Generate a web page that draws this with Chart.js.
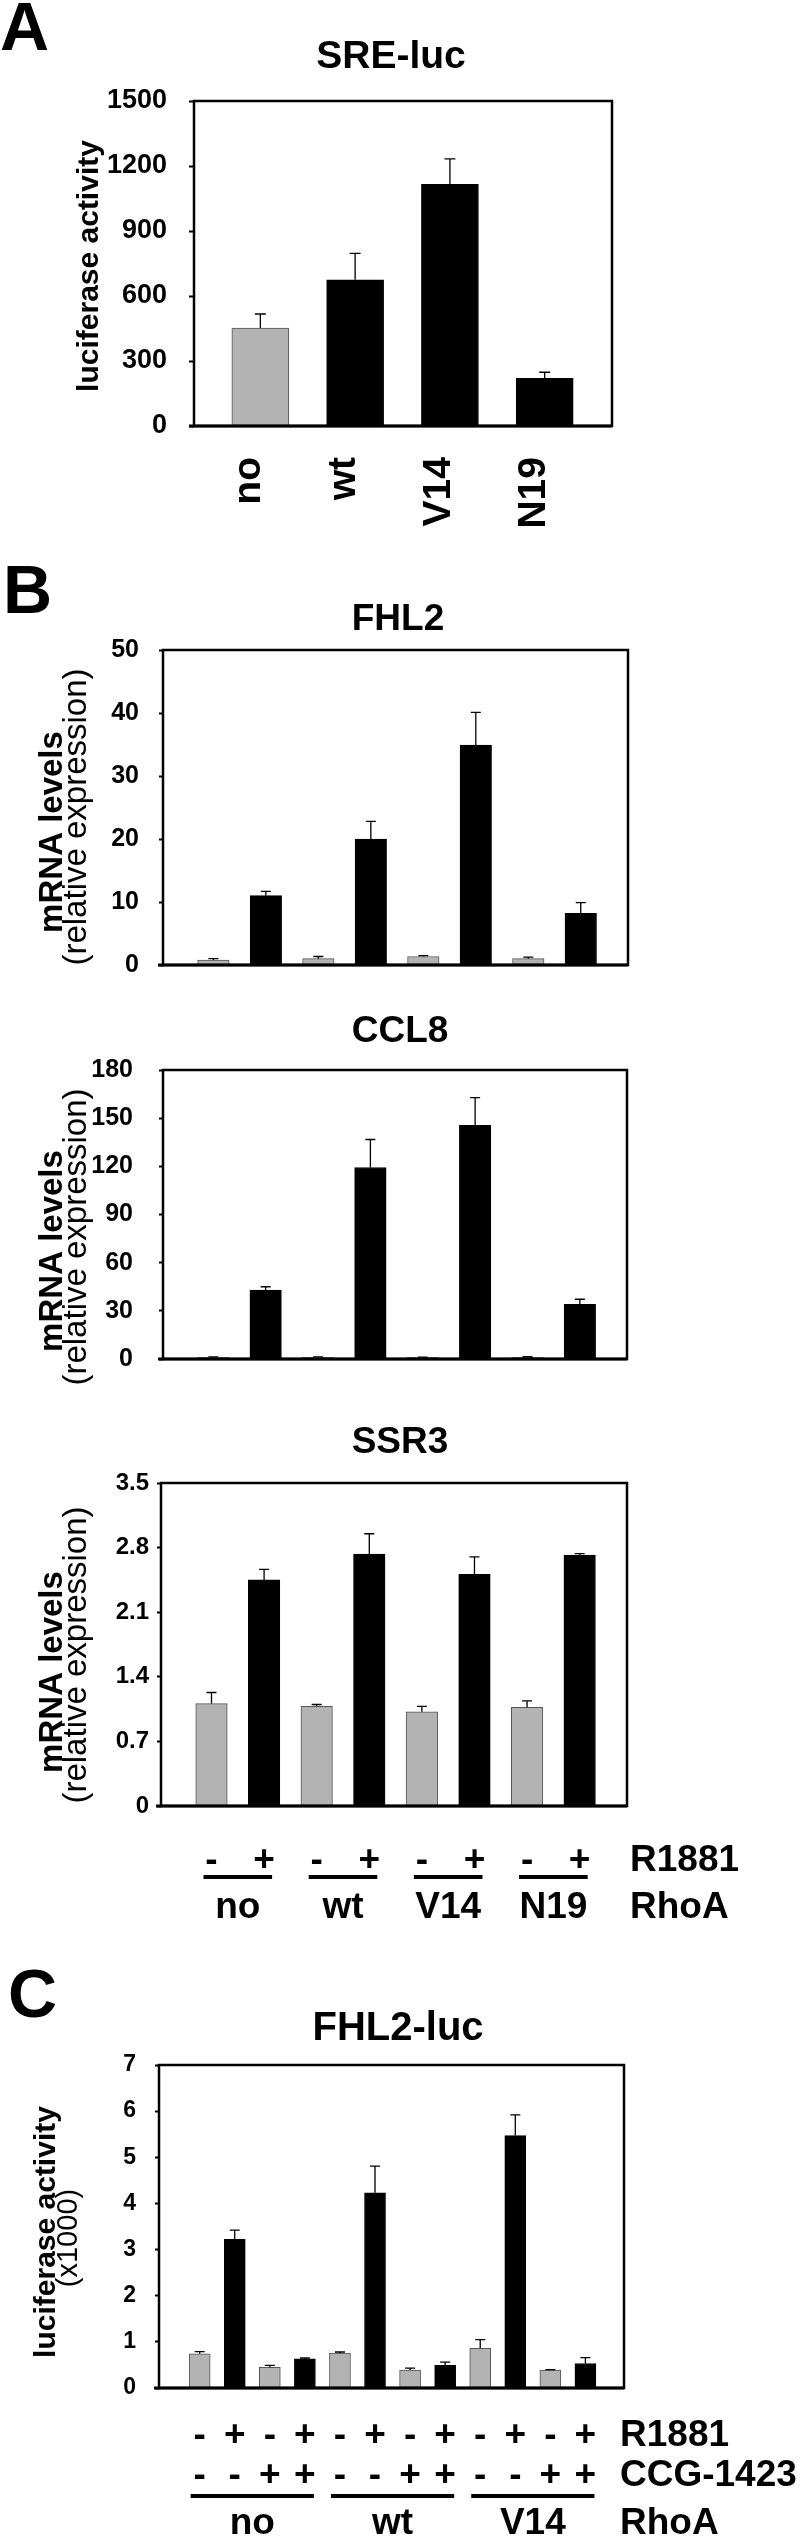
<!DOCTYPE html>
<html>
<head>
<meta charset="utf-8">
<script src="https://cdn.jsdelivr.net/npm/chart.js@4.4.0/dist/chart.umd.min.js"></script>
<style>
  html, body { margin: 0; padding: 0; background: #fff; }
  #page { position: relative; width: 800px; height: 2538px; overflow: hidden; }
  canvas { position: absolute; left: 0; }
</style>
</head>
<body>
<div id="page">
  <canvas id="chartA" width="800" height="560"></canvas>
  <canvas id="chartFhl2" width="800" height="440"></canvas>
  <canvas id="chartCcl8" width="800" height="400"></canvas>
  <canvas id="chartSsr3" width="800" height="540"></canvas>
  <canvas id="chartLuc" width="800" height="598"></canvas>
</div>
<script>
// ---- A: SRE-luc ----
const sreLabels = ['no', 'wt', 'V14', 'N19'];
const sreValues = [452, 675, 1115, 220];
const sreErrors = [65, 122, 118, 28];
const sreTicks = [0, 300, 600, 900, 1200, 1500];

// ---- B: mRNA levels ----
const rhoaGroups = ['no', 'wt', 'V14', 'N19'];
const r1881Signs = ['-', '+', '-', '+', '-', '+', '-', '+'];
const fhl2Values = [0.8, 11.0, 1.0, 20.0, 1.35, 34.9, 1.0, 8.2];
const fhl2Errors = [0.2, 0.7, 0.35, 2.8, 0.15, 5.2, 0.25, 1.7];
const fhl2Ticks = [0, 10, 20, 30, 40, 50];
const ccl8Values = [1.0, 42.9, 1.1, 119.3, 1.0, 145.5, 1.1, 34.1];
const ccl8Errors = [0.3, 2.1, 0.2, 17.4, 0.2, 17.3, 0.3, 3.1];
const ccl8Ticks = [0, 30, 60, 90, 120, 150, 180];
const ssr3Values = [1.11, 2.45, 1.08, 2.73, 1.02, 2.51, 1.07, 2.72];
const ssr3Errors = [0.12, 0.115, 0.02, 0.22, 0.06, 0.19, 0.07, 0.015];
const ssr3Ticks = [0, 0.7, 1.4, 2.1, 2.8, 3.5];

// ---- C: FHL2-luc ----
const lucGroups = ['no', 'wt', 'V14'];
const lucR1881 = ['-', '+', '-', '+', '-', '+', '-', '+', '-', '+', '-', '+'];
const lucCcg = ['-', '-', '+', '+', '-', '-', '+', '+', '-', '-', '+', '+'];
const lucValues = [0.74, 3.22, 0.45, 0.63, 0.755, 4.23, 0.39, 0.49, 0.86, 5.47, 0.39, 0.53];
const lucErrors = [0.05, 0.2, 0.04, 0.02, 0.025, 0.58, 0.04, 0.07, 0.19, 0.45, 0.01, 0.13];
const lucTicks = [0, 1, 2, 3, 4, 5, 6, 7];

const FONT = '"Liberation Sans", Arial, Helvetica, sans-serif';
const GRAY = '#b3b3b3';
const BLACK = '#000000';
Chart.defaults.font.family = FONT;
Chart.defaults.color = '#000';

function txt(ctx, T, s, x, y, size, weight, align) {
  ctx.font = weight + ' ' + size + 'px ' + FONT;
  ctx.textAlign = align || 'left';
  ctx.textBaseline = 'alphabetic';
  ctx.fillStyle = '#000';
  ctx.fillText(s, x, y - T);
}

// rotated text, reading bottom to top; x is the baseline
function vtxt(ctx, T, s, x, y, size, weight, align) {
  ctx.save();
  ctx.translate(x, y - T);
  ctx.rotate(-Math.PI / 2);
  txt(ctx, 0, s, 0, 0, size, weight, align || 'center');
  ctx.restore();
}

// sign rows, underlines and group names under the bars
function groupRows(chart, T, rows, groups, size, lineY, nameY, rightX, pad, fs) {
  const ctx = chart.ctx;
  const bars = chart.getDatasetMeta(0).data;
  rows.forEach(row => {
    row.signs.forEach((s, i) => txt(ctx, T, s, bars[i].x, row.y, fs, 'bold', 'center'));
    txt(ctx, T, row.label, rightX, row.y, fs, 'bold', 'left');
  });
  groups.forEach((g, k) => {
    const x0 = bars[k * size].x, x1 = bars[k * size + size - 1].x;
    ctx.fillStyle = '#000';
    ctx.fillRect(x0 - pad, lineY - T, x1 - x0 + 2 * pad, 4);
    txt(ctx, T, g, (x0 + x1) / 2, nameY, fs, 'bold', 'center');
  });
  txt(ctx, T, 'RhoA', rightX, nameY, fs, 'bold', 'left');
}

function makeChart(spec) {
  const canvas = document.getElementById(spec.id);
  canvas.style.top = spec.top + 'px';
  const T = spec.top;
  const H = canvas.height;
  const f = spec.frame;
  const axisW = 110;

  const errorBars = {
    id: 'errorBars',
    afterDatasetsDraw(chart) {
      const ctx = chart.ctx;
      const y = chart.scales.y;
      ctx.save();
      ctx.strokeStyle = '#000';
      ctx.lineWidth = 1.3;
      chart.getDatasetMeta(0).data.forEach((bar, i) => {
        const top = y.getPixelForValue(spec.values[i] + spec.errors[i]);
        ctx.beginPath();
        ctx.moveTo(bar.x, bar.y);
        ctx.lineTo(bar.x, top);
        ctx.moveTo(bar.x - spec.capW / 2, top);
        ctx.lineTo(bar.x + spec.capW / 2, top);
        ctx.stroke();
      });
      ctx.restore();
    }
  };

  const frameBox = {
    id: 'frameBox',
    afterDraw(chart) {
      const ctx = chart.ctx;
      const a = chart.chartArea;
      ctx.save();
      ctx.strokeStyle = '#000';
      ctx.lineWidth = 2.5;
      ctx.strokeRect(a.left, a.top, a.right - a.left, a.bottom - a.top);
      ctx.lineWidth = 3;
      ctx.beginPath();
      ctx.moveTo(a.left - 5, a.bottom);
      ctx.lineTo(a.right, a.bottom);
      ctx.stroke();
      ctx.restore();
    }
  };

  const decor = {
    id: 'decor',
    afterDraw(chart) {
      chart.ctx.save();
      spec.decorate(chart, chart.ctx, T);
      chart.ctx.restore();
    }
  };

  const ticks = spec.ticks;
  return new Chart(canvas, {
    type: 'bar',
    data: {
      datasets: [{
        data: spec.values.map((v, i) => ({ x: i + 1, y: v })),
        backgroundColor: spec.colors,
        borderColor: spec.colors.map(c => c === GRAY ? '#555' : '#000'),
        borderWidth: 1,
        barThickness: spec.barW
      }]
    },
    options: {
      responsive: false,
      animation: false,
      devicePixelRatio: 1,
      layout: {
        padding: { left: f.l - axisW, right: 800 - f.r, top: f.t - T, bottom: T + H - f.b }
      },
      plugins: { legend: { display: false }, tooltip: { enabled: false } },
      scales: {
        x: { type: 'linear', display: false, offset: false, min: spec.xMin, max: spec.xMax },
        y: {
          min: ticks[0],
          max: ticks[ticks.length - 1],
          ticks: {
            stepSize: ticks[1] - ticks[0],
            padding: spec.tickPad,
            color: '#000',
            font: { size: spec.tickSize, weight: 'bold' },
            callback: v => String(Math.round(v * 10) / 10)
          },
          grid: {
            drawOnChartArea: false,
            drawTicks: true,
            tickLength: spec.tickLen,
            tickWidth: 2,
            tickColor: '#000'
          },
          border: { display: false },
          afterFit(scale) { scale.width = axisW; }
        }
      }
    },
    plugins: [errorBars, frameBox, decor]
  });
}

// A
makeChart({
  id: 'chartA', top: 0,
  frame: { l: 194, r: 612, t: 101, b: 426 },
  values: sreValues, errors: sreErrors, ticks: sreTicks,
  colors: sreLabels.map(l => l === 'no' ? GRAY : BLACK),
  xMin: 0.3, xMax: 4.71, barW: 57, capW: 11,
  tickSize: 27, tickPad: 22, tickLen: 5,
  decorate(chart, ctx, T) {
    txt(ctx, T, 'A', 0, 50, 68, 'bold');
    txt(ctx, T, 'SRE-luc', 391, 68, 39, 'bold', 'center');
    vtxt(ctx, T, 'luciferase activity', 98, 266, 30, 'bold');
    chart.getDatasetMeta(0).data.forEach((bar, i) => {
      vtxt(ctx, T, sreLabels[i], bar.x, 457, 39, 'bold', 'right');
    });
  }
});

const bColors = r1881Signs.map(s => s === '+' ? BLACK : GRAY);
const bBase = { xMin: 0.04, xMax: 8.9, barW: 31.5, capW: 10, tickSize: 25, tickLen: 4, colors: bColors };

function mrnaTitle(ctx, T, yBold, yNormal) {
  vtxt(ctx, T, 'mRNA levels', 62, yBold, 33, 'bold');
  vtxt(ctx, T, '(relative expression)', 86, yNormal, 33, 'normal');
}

makeChart(Object.assign({}, bBase, {
  id: 'chartFhl2', top: 560,
  frame: { l: 163, r: 628, t: 650, b: 975 },
  values: fhl2Values, errors: fhl2Errors, ticks: fhl2Ticks, tickPad: 20,
  decorate(chart, ctx, T) {
    txt(ctx, T, 'B', 3, 613, 68, 'bold');
    txt(ctx, T, 'FHL2', 398, 630, 37, 'bold', 'center');
    mrnaTitle(ctx, T, 832, 817);
  }
}));

makeChart(Object.assign({}, bBase, {
  id: 'chartCcl8', top: 1000,
  frame: { l: 163, r: 627, t: 1070, b: 1383 },
  values: ccl8Values, errors: ccl8Errors, ticks: ccl8Ticks, tickPad: 26,
  decorate(chart, ctx, T) {
    txt(ctx, T, 'CCL8', 400, 1042, 37, 'bold', 'center');
    mrnaTitle(ctx, T, 1251, 1237);
  }
}));

makeChart(Object.assign({}, bBase, {
  id: 'chartSsr3', top: 1400,
  frame: { l: 161, r: 627, t: 1483, b: 1806 },
  values: ssr3Values, errors: ssr3Errors, ticks: ssr3Ticks, tickPad: 8, tickSize: 24,
  decorate(chart, ctx, T) {
    txt(ctx, T, 'SSR3', 400, 1453, 37, 'bold', 'center');
    mrnaTitle(ctx, T, 1672, 1655);
    groupRows(chart, T, [{ signs: r1881Signs, y: 1871, label: 'R1881' }],
      rhoaGroups, 2, 1875, 1918, 630, 8, 37);
  }
}));

// C
makeChart({
  id: 'chartLuc', top: 1940,
  frame: { l: 159, r: 624, t: 2065, b: 2388 },
  values: lucValues, errors: lucErrors, ticks: lucTicks,
  colors: lucR1881.map(s => s === '+' ? BLACK : GRAY),
  xMin: -0.16, xMax: 13.1, barW: 21, capW: 10,
  tickSize: 23, tickPad: 19, tickLen: 4,
  decorate(chart, ctx, T) {
    txt(ctx, T, 'C', 8, 2017, 68, 'bold');
    txt(ctx, T, 'FHL2-luc', 398, 2040, 40, 'bold', 'center');
    vtxt(ctx, T, 'luciferase activity', 55, 2232, 30, 'bold');
    vtxt(ctx, T, '(x1000)', 77, 2238, 29, 'normal');
    groupRows(chart, T, [
      { signs: lucR1881, y: 2446, label: 'R1881' },
      { signs: lucCcg, y: 2486, label: 'CCG-1423' }
    ], lucGroups, 4, 2494, 2534, 620, 9, 37);
  }
});
</script>
</body>
</html>
